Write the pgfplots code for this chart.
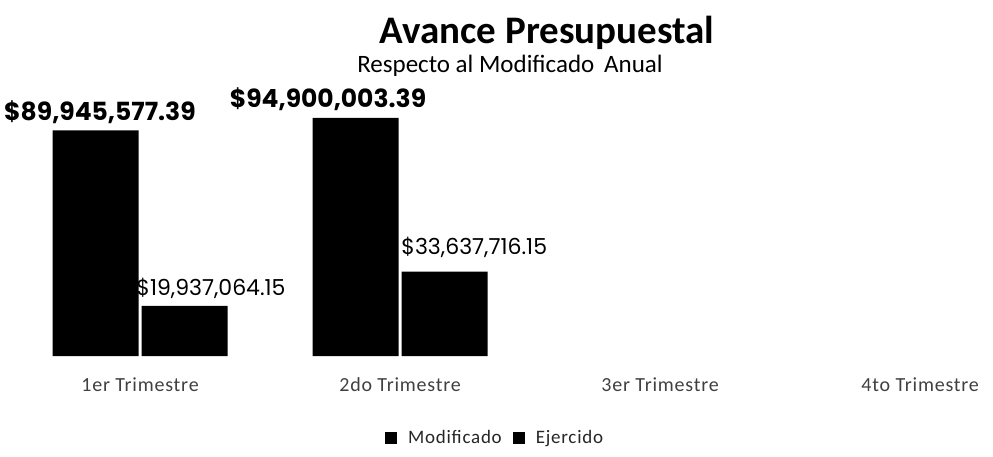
\documentclass[border=0pt]{standalone}
\usepackage{pgfplots}
\pgfplotsset{compat=1.18}
\usepackage{fontspec}
\setmainfont{Carlito}
\newfontfamily\gothic{Poppins}
\newfontfamily\ticksfont[LetterSpace=4]{Carlito}

\begin{document}
\begin{tikzpicture}[x=1pt,y=1pt]
\useasboundingbox (0,0) rectangle (993,456);
\begin{axis}[
    at={(10pt,100pt)}, anchor=south west,
    scale only axis,
    width=983pt, height=256pt,
    ybar=3pt,
    bar width=86pt,
    xmin=-0.5, xmax=3.28,
    ymin=0, ymax=102,
    xtick={0,1,2,3},
    xticklabels={1er Trimestre, 2do Trimestre, 3er Trimestre, 4to Trimestre},
    ytick=\empty,
    axis line style={draw=none},
    tick style={draw=none},
    x tick label style={font=\ticksfont\fontsize{20}{24}\selectfont, text=black!75, yshift=-14pt},
    clip=false,
    legend style={at={(0.493,-0.32)}, anchor=center, draw=none,
        font=\ticksfont\fontsize{19}{22}\selectfont, text=black!85,
        legend columns=2, column sep=10pt,
        nodes={inner sep=1pt}},
    legend image code/.code={\fill (6pt,-6pt) rectangle (18pt,6pt);},
]
\addplot[fill=black, draw=none] coordinates {(0,89.94557739) (1,94.90000339)};
\addplot[fill=black, draw=none] coordinates {(0,19.93706415) (1,33.63771615)};
\legend{Modificado, Ejercido}

\node[font=\gothic\bfseries\fontsize{25}{28}\selectfont] at (axis cs:-0.154,97.3) {\$89,945,577.39};
\node[font=\gothic\bfseries\fontsize{25}{28}\selectfont] at (axis cs:0.723,102.5) {\$94,900,003.39};
\node[font=\gothic\fontsize{22}{26}\selectfont, anchor=west, inner sep=0pt] at (axis cs:-0.015,27.1) {\$19,937,064.15};
\node[font=\gothic\fontsize{22}{26}\selectfont, anchor=west, inner sep=0pt] at (axis cs:1.004,43.1) {\$33,637,716.15};
\end{axis}
\node[font=\bfseries\fontsize{39}{44}\selectfont] at (547,423) {Avance Presupuestal};
\node[font=\fontsize{25}{30}\selectfont] at (510,390) {Respecto al Modificado\, Anual};
\end{tikzpicture}
\end{document}
